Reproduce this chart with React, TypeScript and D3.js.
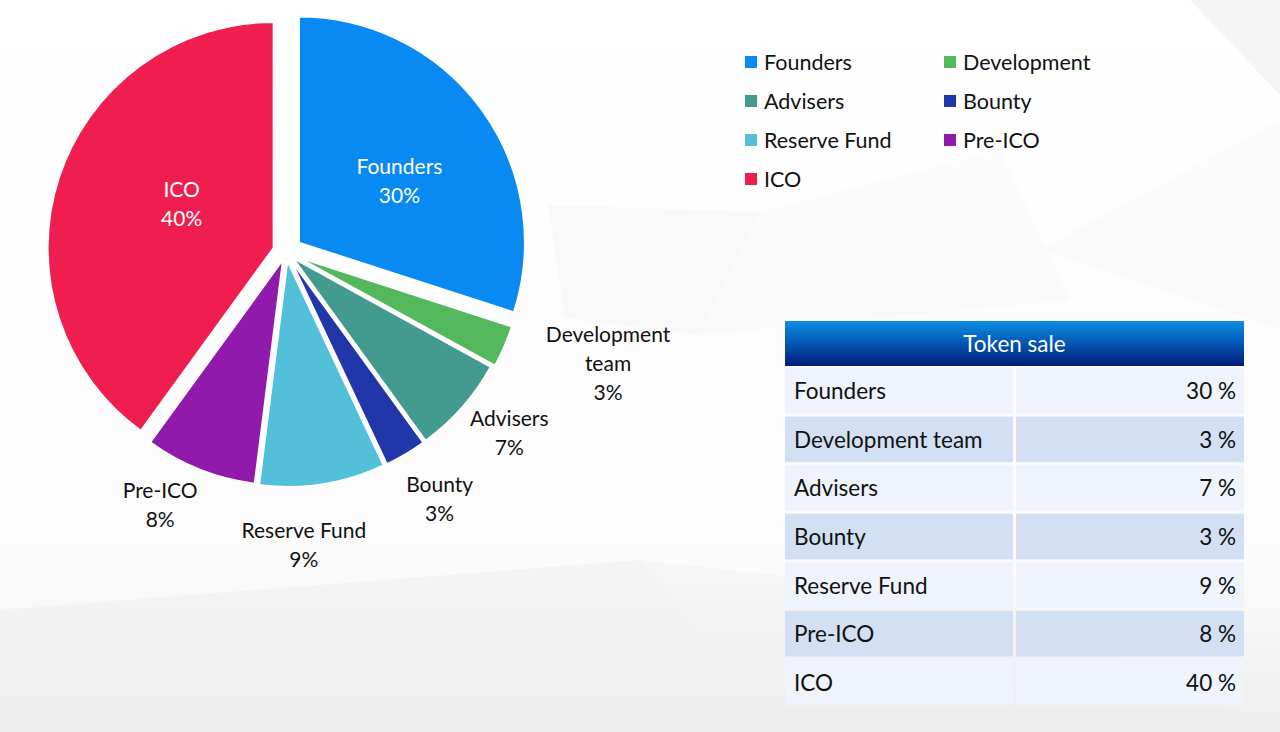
import React from 'react';
import * as d3 from 'd3';

// token distribution, clockwise from 12 o'clock
const categories = ['Founders', 'Development team', 'Advisers', 'Bounty', 'Reserve Fund', 'Pre-ICO', 'ICO'];
const shares = [30, 3, 7, 3, 9, 8, 40];
const legendLabels = ['Founders', 'Development', 'Advisers', 'Bounty', 'Reserve Fund', 'Pre-ICO', 'ICO'];
const tableTitle = 'Token sale';

const colors = ['#0989f2', '#53b85b', '#439a8e', '#2137a9', '#53c0da', '#8f1aab', '#ef1e4f'];

// layout / style bits (not data)
const FONT = 'Lato, "Open Sans", sans-serif';
const W = 1280;
const H = 732;
const cx = 286;
const cy = 252;
const radius = 226;
const explode = [16, 12, 9, 9, 9, 8, 13];
const labelRadius = [118, 328, 278, 281, 284, 274, 102];
const labelNudge: [number, number][] = [[5, 7], [10, -25], [8, -10], [6, -4], [-28, 3], [-22, -10], [5, -13]];
const lineH = 29;

const labelLines = (i: number) => {
  const pct = `${shares[i]}%`;
  if (categories[i] === 'Development team') return ['Development', 'team', pct];
  return [categories[i], pct];
};

export default function App() {
  const pie = d3.pie<number>().sort(null).value((d) => d);
  const arcs = pie(shares);
  const arc = d3.arc<d3.PieArcDatum<number>>().innerRadius(0).outerRadius(radius);

  const legendX = d3.scalePoint<number>().domain([0, 1]).range([745, 944]);
  const legendY = d3.scalePoint<number>().domain([0, 1, 2, 3]).range([62, 179]);

  const tableX = 785;
  const tableW = 459;
  const splitX = 1014;
  const headerTop = 321;
  const headerH = 45;
  const rowY = d3.scaleBand<string>().domain(categories).range([368, 705]).paddingInner(0.06);

  return (
    <svg width={W} height={H} style={{ position: 'absolute', left: 0, top: 0 }} fontFamily={FONT}>
      <defs>
        <linearGradient id="bg" x1="0" y1="0" x2="0" y2="1">
          <stop offset="0" stopColor="#ffffff" />
          <stop offset="0.78" stopColor="#fbfbfb" />
          <stop offset="1" stopColor="#ededed" />
        </linearGradient>
        <linearGradient id="hdr" x1="0" y1="0" x2="0" y2="1">
          <stop offset="0" stopColor="#0b8fe2" />
          <stop offset="0.5" stopColor="#0556b5" />
          <stop offset="1" stopColor="#011c78" />
        </linearGradient>
      </defs>
      <rect width={W} height={H} fill="url(#bg)" />
      {/* faint faceted background */}
      <g fill="#eeeeee">
        <polygon points="548,205 760,212 700,335 565,318" opacity={0.3} />
        <polygon points="760,212 1000,150 1070,300 700,335" opacity={0.15} />
        <polygon points="1190,0 1280,0 1280,95" opacity={0.6} />
        <polygon points="0,610 640,560 780,732 0,732" opacity={0.5} />
        <polygon points="640,560 1000,600 1280,732 780,732" opacity={0.35} />
        <polygon points="1040,250 1280,120 1280,330" opacity={0.2} />
      </g>

      {/* pie */}
      <g transform={`translate(${cx},${cy})`}>
        {arcs.map((a, i) => {
          const mid = (a.startAngle + a.endAngle) / 2;
          const dx = Math.sin(mid) * explode[i];
          const dy = -Math.cos(mid) * explode[i];
          return (
            <path
              key={categories[i]}
              d={arc(a) || ''}
              transform={`translate(${dx},${dy})`}
              fill={colors[i]}
              stroke="#ffffff"
              strokeWidth={2}
              strokeLinejoin="round"
            />
          );
        })}
        {arcs.map((a, i) => {
          const mid = (a.startAngle + a.endAngle) / 2;
          const r = labelRadius[i] + explode[i];
          const x = Math.sin(mid) * r + labelNudge[i][0];
          const y = -Math.cos(mid) * r + labelNudge[i][1];
          const lines = labelLines(i);
          const inside = labelRadius[i] < radius;
          return (
            <text
              key={`lbl-${categories[i]}`}
              x={x}
              y={y}
              textAnchor="middle"
              fontSize={21}
              fill={inside ? '#ffffff' : '#111111'}
            >
              {lines.map((t, j) => (
                <tspan key={t} x={x} y={y + (j - (lines.length - 1) / 2) * lineH} dominantBaseline="central">
                  {t}
                </tspan>
              ))}
            </text>
          );
        })}
      </g>

      {/* legend */}
      <g>
        {legendLabels.map((name, i) => {
          const x = legendX(i % 2) as number;
          const y = legendY(Math.floor(i / 2)) as number;
          return (
            <g key={name} transform={`translate(${x},${y})`}>
              <rect x={0} y={-6} width={12} height={12} fill={colors[i]} />
              <text x={19} y={0} dominantBaseline="central" fontSize={21.5} fill="#111111">
                {name}
              </text>
            </g>
          );
        })}
      </g>

      {/* table */}
      <g>
        <rect x={tableX} y={headerTop} width={tableW} height={headerH} fill="url(#hdr)" />
        <text
          x={tableX + tableW / 2}
          y={headerTop + headerH / 2}
          textAnchor="middle"
          dominantBaseline="central"
          fontSize={22.5}
          fill="#ffffff"
        >
          {tableTitle}
        </text>
        {categories.map((name, i) => {
          const y = rowY(name) as number;
          const h = rowY.bandwidth();
          const fill = i % 2 === 0 ? '#eef3fc' : '#d3e0f3';
          return (
            <g key={`row-${name}`}>
              <rect x={tableX} y={y} width={splitX - 1 - tableX} height={h} fill={fill} />
              <rect x={splitX + 2} y={y} width={tableX + tableW - splitX - 2} height={h} fill={fill} />
              <text x={tableX + 9} y={y + h / 2} dominantBaseline="central" fontSize={22.5} fill="#111111">
                {name}
              </text>
              <text
                x={tableX + tableW - 8}
                y={y + h / 2}
                dominantBaseline="central"
                textAnchor="end"
                fontSize={22.5}
                fill="#111111"
              >
                {`${shares[i]} %`}
              </text>
            </g>
          );
        })}
      </g>
    </svg>
  );
}
